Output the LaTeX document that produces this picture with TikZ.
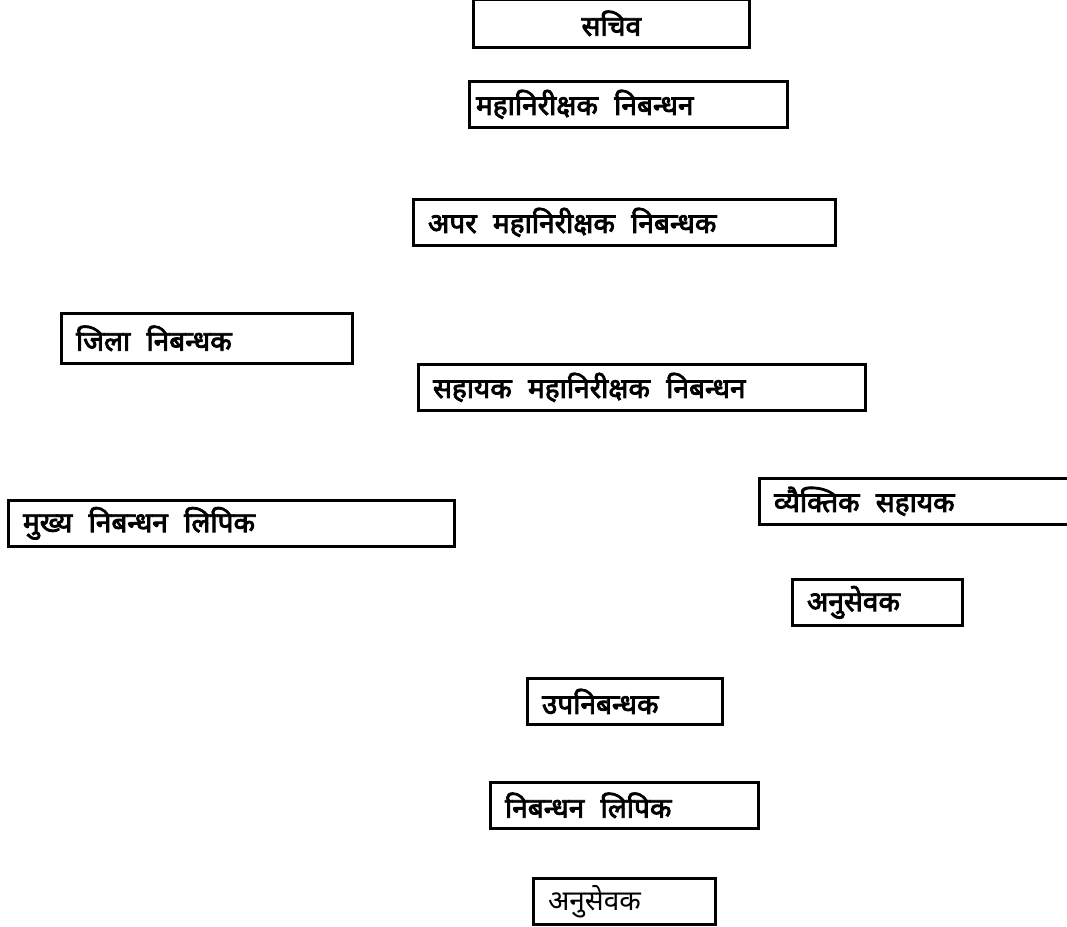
\documentclass[tikz,border=0pt]{standalone}
\usepackage{fontspec}
\newfontfamily\deva[Script=Devanagari]{Noto Sans}
\newfontfamily\devabold[Script=Devanagari,FakeBold=3]{Noto Sans}
\newcommand\wgap{\hspace{0.58em}}
\usepackage{tikz}

\begin{document}
\begin{tikzpicture}[x=0.75pt,y=-0.75pt,
    post/.style={draw, line width=2pt, anchor=north west, minimum height=34.5pt,
      inner xsep=11pt, inner ysep=0pt, align=left, text width=#1,
      font=\devabold\fontsize{21}{25}\selectfont},
    plain/.style={font=\deva\fontsize{21}{25}\selectfont}]
      \useasboundingbox (0,0) rectangle (1067,926);
      \draw (472,-2) node[post=185pt, align=center, minimum height=36pt] (sachiv) {सचिव};
      \draw (468,80) node[post=228.5pt, inner xsep=5pt] (mahanirikshak) {महानिरीक्षक\wgap निबन्धन};
      \draw (412,198) node[post=294.5pt] (apar) {अपर\wgap महानिरीक्षक\wgap निबन्धक};
  \draw (60,312) node[post=196.25pt, minimum height=37.5pt] (jila) {जिला\wgap निबन्धक};
      \draw (417,363) node[post=313.25pt] (sahayak) {सहायक\wgap महानिरीक्षक\wgap निबन्धन};
%%%%%%%%%%%%%%%%%%%%%%%%%%%%%%%%%%%%%%%%%%%%%%%%%%%%%%%%%%%%%%%%%%%%%%%
  \draw (7,499) node[post=312.5pt] (mukhya) {मुख्य\wgap निबन्धन\wgap लिपिक};
      \draw (758,477) node[post=219.5pt] (vyaktigat) {व्यैक्तिक\wgap सहायक};
      \draw (791,578) node[post=105.5pt] (anusevak) {अनुसेवक};
      \draw (526,677) node[post=124.25pt] (upanibandhak) {उपनिबन्धक};
      \draw (489,781) node[post=179pt] (lipik) {निबन्धन\wgap लिपिक};
      \draw (532,877) node[post=114.5pt, plain] (anusevak2) {अनुसेवक};
\end{tikzpicture}
\end{document}
